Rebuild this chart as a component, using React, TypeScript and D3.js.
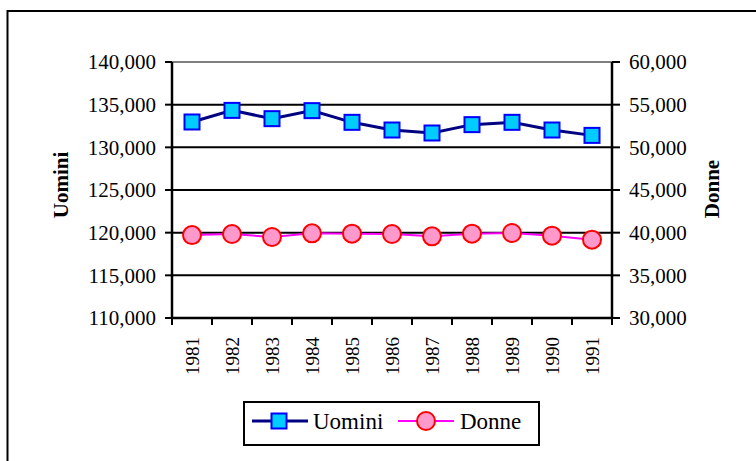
import React from 'react';
import * as d3 from 'd3';

const years = ['1981', '1982', '1983', '1984', '1985', '1986', '1987', '1988', '1989', '1990', '1991'];
const uomini = [132970, 134330, 133360, 134300, 132930, 132030, 131680, 132660, 132930, 132030, 131400];
const donne = [39720, 39840, 39490, 39920, 39880, 39840, 39570, 39880, 39960, 39650, 39180];
const leftTicks = [110000, 115000, 120000, 125000, 130000, 135000, 140000];
const rightTicks = [30000, 35000, 40000, 45000, 50000, 55000, 60000];

const FONT = "'Liberation Serif', 'DejaVu Serif', serif";

export default function App() {
  // plot area
  const margin = { top: 62, right: 144, bottom: 143, left: 172 };
  const width = 756;
  const height = 461;
  const graphWidth = width - margin.left - margin.right;
  const graphHeight = height - margin.top - margin.bottom;

  const x = d3.scaleBand().domain(years).range([0, graphWidth]).padding(0);
  const yLeft = d3.scaleLinear().domain([110000, 140000]).range([graphHeight, 0]);
  const yRight = d3.scaleLinear().domain([30000, 60000]).range([graphHeight, 0]);
  const fmt = d3.format(',');

  const cx = (d: string) => (x(d) ?? 0) + x.bandwidth() / 2;

  const lineU = d3
    .line<number>()
    .x((_, i) => cx(years[i]))
    .y(d => yLeft(d));
  const lineD = d3
    .line<number>()
    .x((_, i) => cx(years[i]))
    .y(d => yRight(d));

  const sq = 15;

  return (
    <svg
      width={width}
      height={height}
      style={{ position: 'absolute', left: 0, top: 0, background: '#fff', fontFamily: FONT }}
    >
      {/* outer frame */}
      <rect x={7.5} y={11} width={800} height={500} fill="#fff" stroke="#000" strokeWidth={2} />

      <g transform={`translate(${margin.left}, ${margin.top})`}>
        {/* gridlines */}
        {leftTicks.map(t => (
          <line
            key={t}
            x1={0}
            x2={graphWidth}
            y1={yLeft(t)}
            y2={yLeft(t)}
            stroke={t === 140000 ? '#808080' : '#000'}
            strokeWidth={2}
          />
        ))}

        {/* left axis */}
        <line x1={0} x2={0} y1={0} y2={graphHeight} stroke="#000" strokeWidth={2.5} />
        {leftTicks.map(t => (
          <g key={t} transform={`translate(0, ${yLeft(t)})`}>
            <line x1={-7} x2={0} stroke="#000" strokeWidth={2} />
            <text x={-16} dy="0.35em" textAnchor="end" fontSize={21}>
              {fmt(t)}
            </text>
          </g>
        ))}

        {/* right axis */}
        <line x1={graphWidth} x2={graphWidth} y1={0} y2={graphHeight} stroke="#000" strokeWidth={2.5} />
        {rightTicks.map(t => (
          <g key={t} transform={`translate(${graphWidth}, ${yRight(t)})`}>
            <line x1={0} x2={8} stroke="#000" strokeWidth={2} />
            <text x={17} dy="0.35em" textAnchor="start" fontSize={21}>
              {fmt(t)}
            </text>
          </g>
        ))}

        {/* bottom axis */}
        <line x1={0} x2={graphWidth} y1={graphHeight} y2={graphHeight} stroke="#000" strokeWidth={2.5} />
        {years.map(d => (
          <line
            key={d}
            x1={x(d) ?? 0}
            x2={x(d) ?? 0}
            y1={graphHeight}
            y2={graphHeight + 7}
            stroke="#000"
            strokeWidth={2}
          />
        ))}
        <line
          x1={graphWidth}
          x2={graphWidth}
          y1={graphHeight}
          y2={graphHeight + 7}
          stroke="#000"
          strokeWidth={2}
        />
        {years.map(d => (
          <text
            key={d}
            transform={`translate(${cx(d)}, ${graphHeight + 19}) rotate(-90)`}
            textAnchor="end"
            dy="0.35em"
            fontSize={19}
          >
            {d}
          </text>
        ))}

        {/* series lines */}
        <path d={lineU(uomini) ?? ''} fill="none" stroke="#000080" strokeWidth={3} />
        <path d={lineD(donne) ?? ''} fill="none" stroke="#FF00FF" strokeWidth={2} />

        {/* markers */}
        {uomini.map((v, i) => (
          <rect
            key={i}
            x={cx(years[i]) - sq / 2}
            y={yLeft(v) - sq / 2}
            width={sq}
            height={sq}
            fill="#00CCFF"
            stroke="#0000FF"
            strokeWidth={2}
          />
        ))}
        {donne.map((v, i) => (
          <circle
            key={i}
            cx={cx(years[i])}
            cy={yRight(v)}
            r={9}
            fill="#FF99CC"
            stroke="#FF0000"
            strokeWidth={2}
          />
        ))}
      </g>

      {/* axis titles */}
      <text
        transform={`translate(61, 185) rotate(-90)`}
        textAnchor="middle"
        dy="0.35em"
        fontSize={21}
        fontWeight="bold"
      >
        Uomini
      </text>
      <text
        transform={`translate(712, 189) rotate(-90)`}
        textAnchor="middle"
        dy="0.35em"
        fontSize={21}
        fontWeight="bold"
      >
        Donne
      </text>

      {/* legend */}
      <g>
        <rect x={244} y={402} width={295} height={43} fill="#fff" stroke="#000" strokeWidth={2} />
        <line x1={252} x2={308} y1={421} y2={421} stroke="#000080" strokeWidth={3} />
        <rect x={279 - sq / 2} y={421 - sq / 2} width={sq} height={sq} fill="#00CCFF" stroke="#0000FF" strokeWidth={2} />
        <text x={313} y={421} dy="0.35em" fontSize={23}>
          Uomini
        </text>
        <line x1={398} x2={454} y1={421} y2={421} stroke="#FF00FF" strokeWidth={2} />
        <circle cx={426} cy={421} r={9} fill="#FF99CC" stroke="#FF0000" strokeWidth={2} />
        <text x={460} y={421} dy="0.35em" fontSize={23}>
          Donne
        </text>
      </g>
    </svg>
  );
}
